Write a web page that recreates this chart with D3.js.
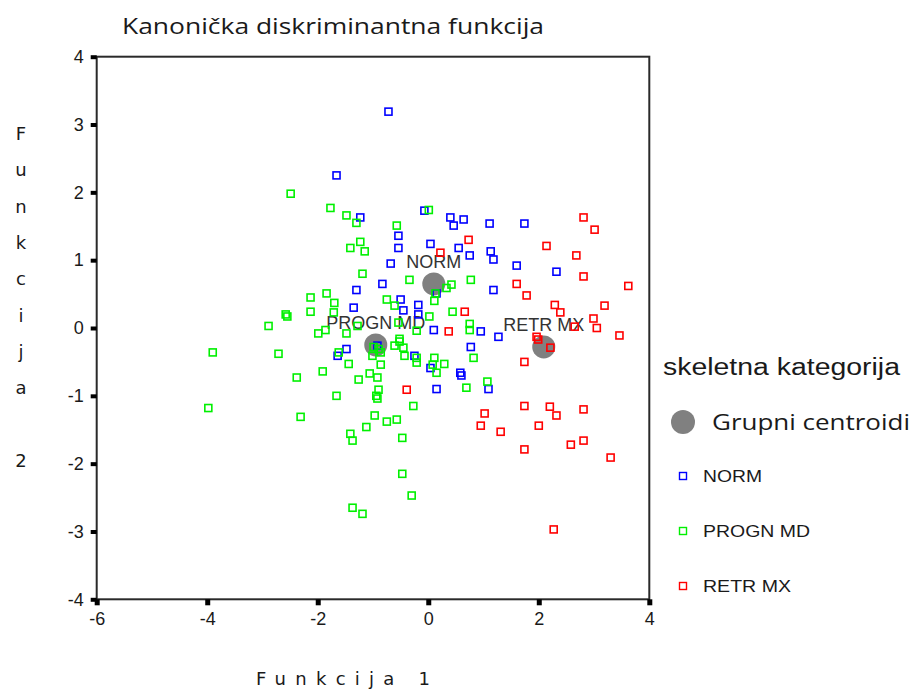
<!DOCTYPE html>
<html>
<head>
<meta charset="utf-8">
<script src="https://cdn.jsdelivr.net/npm/d3@7"></script>
<style>
  body { margin: 0; background: #fff; }
  text { fill: #1a1a1a; }
</style>
</head>
<body>
<div id="container"></div>
<script>
// Group names and colours
var groups = ["NORM", "PROGN MD", "RETR MX"];
var groupColors = ["#0000ff", "#00f000", "#ff0000"];

// Canonical scores per group: [funkcija 1, funkcija 2]
var normPoints = [
  [-0.72, 3.19], [-1.66, 2.25], [-1.23, 1.63], [-0.07, 1.73], [0.40, 1.63],
  [0.46, 1.51], [0.64, 1.60], [1.11, 1.54], [1.74, 1.54], [-0.54, 1.36],
  [-0.54, 1.18], [0.04, 1.24], [0.55, 1.18], [0.75, 1.07], [1.13, 1.13],
  [1.18, 1.01], [-0.68, 0.95], [1.60, 0.92], [2.32, 0.83], [-0.83, 0.65],
  [-1.30, 0.56], [1.18, 0.56], [-1.35, 0.30], [-0.50, 0.42], [-0.18, 0.34],
  [-0.45, 0.26], [-0.18, 0.20], [0.10, -0.03], [0.95, -0.05], [1.27, -0.13],
  [0.77, -0.28], [-0.25, -0.41], [0.04, -0.59], [0.58, -0.66], [0.60, -0.70],
  [0.15, -0.90], [1.09, -0.90], [-1.48, -0.31], [-1.64, -0.41], [-0.92, -0.26],
  [0.15, 0.51]
];
var prognPoints = [
  [-2.49, 1.98], [-1.77, 1.77], [-1.48, 1.66], [-1.30, 1.55], [0.01, 1.74],
  [-0.57, 1.51], [-1.23, 1.27], [-1.41, 1.18], [-1.15, 1.13], [-1.19, 0.80],
  [-0.34, 0.71], [-2.13, 0.45], [-1.84, 0.51], [-1.70, 0.37], [-2.13, 0.24],
  [-2.58, 0.20], [-2.55, 0.17], [-2.89, 0.03], [-0.75, 0.42], [-0.61, 0.33],
  [0.13, 0.51], [0.11, 0.40], [0.33, 0.59], [0.42, 0.64], [0.02, 0.17],
  [-0.21, -0.04], [-1.99, -0.08], [-1.86, -0.03], [-1.48, -0.08], [-1.71, 0.23],
  [-1.28, 0.03], [0.44, 0.24], [-0.54, 0.08], [-0.52, -0.16], [0.77, 0.71],
  [0.75, 0.06], [0.75, -0.03], [-0.99, -0.28], [-0.90, -0.31], [-0.86, -0.36],
  [-1.01, -0.41], [-0.86, -0.54], [-0.61, -0.26], [-0.52, -0.20], [-0.45, -0.29],
  [-0.43, -0.41], [-0.21, -0.44], [-0.21, -0.51], [0.11, -0.44], [0.08, -0.54],
  [0.15, -0.66], [0.29, -0.53], [0.82, -0.44], [-3.90, -0.36], [-2.71, -0.38],
  [-1.62, -0.36], [-1.44, -0.53], [-2.38, -0.73], [-1.91, -0.64], [-1.26, -0.76],
  [-1.06, -0.67], [-0.92, -0.73], [-0.90, -0.91], [-0.94, -1.00], [-0.92, -1.04],
  [-1.66, -1.00], [-3.98, -1.18], [-2.31, -1.31], [-0.97, -1.29], [-1.12, -1.46],
  [-0.75, -1.38], [-0.57, -1.35], [-0.47, -1.62], [-1.41, -1.56], [-1.37, -1.66],
  [-0.27, -1.15], [0.69, -0.88], [1.07, -0.79], [-0.47, -2.15], [-0.30, -2.47],
  [-1.37, -2.65], [-1.19, -2.74]
];
var retrPoints = [
  [2.81, 1.63], [3.01, 1.45], [0.73, 1.30], [2.14, 1.21], [2.68, 1.07],
  [0.22, 1.11], [2.81, 0.76], [1.60, 0.65], [1.78, 0.48], [3.62, 0.62],
  [2.29, 0.34], [2.39, 0.23], [3.19, 0.33], [0.66, 0.24], [0.37, -0.05],
  [2.99, 0.14], [3.05, 0.00], [2.65, 0.02], [3.46, -0.11], [1.96, -0.13],
  [1.99, -0.17], [2.21, -0.29], [1.74, -0.50], [-0.39, -0.91], [1.74, -1.15],
  [1.02, -1.26], [0.95, -1.44], [1.31, -1.53], [2.20, -1.16], [2.32, -1.29],
  [2.81, -1.20], [2.00, -1.44], [2.58, -1.72], [2.81, -1.66], [1.74, -1.79],
  [3.30, -1.91], [2.27, -2.97]
];

// Group centroids
var centroids = [[0.10, 0.65], [-0.95, -0.25], [2.09, -0.28]];

var xTicks = [-6, -4, -2, 0, 2, 4];
var yTicks = [-4, -3, -2, -1, 0, 1, 2, 3, 4];

var width = 918,
    height = 698;

var svg = d3.select("#container")
            .append("svg")
              .attr("width", width)
              .attr("height", height);

var x = d3.scaleLinear().domain([-6, 4]).range([96.7, 649.3]);
var y = d3.scaleLinear().domain([-4, 4]).range([599.3, 56.7]);

// Title
svg.append("text")
  .attr("x", 122)
  .attr("y", 34)
  .attr("textLength", 422)
  .attr("lengthAdjust", "spacingAndGlyphs")
  .style("font-family", "'Open Sans', sans-serif")
  .style("font-size", "21px")
  .text("Kanonička diskriminantna funkcija");

// Frame
svg.append("rect")
  .attr("x", x(-6))
  .attr("y", y(4))
  .attr("width", x(4) - x(-6))
  .attr("height", y(-4) - y(4))
  .attr("fill", "none")
  .attr("stroke", "#2a2a2a")
  .attr("stroke-width", 2);

// Axes (hyphen minus like the original)
var fmt = function(d) { return String(d); };
var xAxis = svg.append("g")
  .attr("transform", "translate(0," + y(-4) + ")")
  .call(d3.axisBottom(x).tickValues(xTicks).tickSize(6).tickPadding(7).tickFormat(fmt));
var yAxis = svg.append("g")
  .attr("transform", "translate(" + x(-6) + ",0)")
  .call(d3.axisLeft(y).tickValues(yTicks).tickSize(6).tickPadding(7).tickFormat(fmt));

[xAxis, yAxis].forEach(function(a) {
  a.attr("font-size", null).attr("font-family", null);
  a.select(".domain").remove();
  a.selectAll(".tick line").attr("stroke", "#000");
  a.selectAll(".tick text")
    .style("font-family", "'Liberation Sans', Arial, sans-serif")
    .style("font-size", "18px")
    .style("fill", "#1a1a1a");
});
xAxis.selectAll(".tick line").attr("stroke-width", 5);
yAxis.selectAll(".tick line").attr("stroke-width", 4);

// X axis label
svg.append("text")
  .attr("x", 256)
  .attr("y", 685)
  .attr("textLength", 174)
  .attr("lengthAdjust", "spacing")
  .style("font-family", "'DejaVu Sans', sans-serif")
  .style("font-size", "18px")
  .text("Funkcija 1");

// Y axis label, one letter per line
var yLabel = "Funkcija 2".split("");
svg.append("g")
  .selectAll("text")
  .data(yLabel)
  .enter()
  .append("text")
    .attr("x", 21)
    .attr("y", function(d, i) { return 140 + i * 36.3; })
    .attr("text-anchor", "middle")
    .style("font-family", "'DejaVu Sans', sans-serif")
    .style("font-size", "18px")
    .text(function(d) { return d; });

// Centroids
svg.append("g")
  .selectAll("circle")
  .data(centroids)
  .enter()
  .append("circle")
    .attr("cx", function(d) { return x(d[0]); })
    .attr("cy", function(d) { return y(d[1]); })
    .attr("r", 11.5)
    .attr("fill", "#808080");

// Centroid labels
svg.append("g")
  .selectAll("text")
  .data(centroids)
  .enter()
  .append("text")
    .attr("x", function(d) { return x(d[0]); })
    .attr("y", function(d) { return y(d[1]) - 16; })
    .attr("text-anchor", "middle")
    .style("font-family", "'Liberation Sans', Arial, sans-serif")
    .style("font-size", "18px")
    .style("fill", "#333")
    .text(function(d, i) { return groups[i]; });

// Points
var allGroups = [normPoints, prognPoints, retrPoints];
var side = 7;
allGroups.forEach(function(pts, gi) {
  svg.append("g")
    .selectAll("rect")
    .data(pts)
    .enter()
    .append("rect")
      .attr("x", function(d) { return x(d[0]) - side / 2; })
      .attr("y", function(d) { return y(d[1]) - side / 2; })
      .attr("width", side)
      .attr("height", side)
      .attr("fill", "none")
      .attr("stroke", groupColors[gi])
      .attr("stroke-width", 1.6);
});

// Legend
var legend = svg.append("g");
legend.append("text")
  .attr("x", 663)
  .attr("y", 375)
  .attr("textLength", 237)
  .attr("lengthAdjust", "spacingAndGlyphs")
  .style("font-family", "'Liberation Sans', Arial, sans-serif")
  .style("font-size", "23px")
  .text("skeletna kategorija");

legend.append("circle")
  .attr("cx", 683)
  .attr("cy", 422)
  .attr("r", 12)
  .attr("fill", "#808080");
legend.append("text")
  .attr("x", 712)
  .attr("y", 430)
  .attr("textLength", 198)
  .attr("lengthAdjust", "spacingAndGlyphs")
  .style("font-family", "'Open Sans', sans-serif")
  .style("font-size", "22px")
  .text("Grupni centroidi");

var legendWidths = [59, 107, 88];
legend.selectAll(".item")
  .data(groups)
  .enter()
  .append("g")
    .attr("class", "item")
    .attr("transform", function(d, i) { return "translate(683," + (476 + i * 55) + ")"; })
    .each(function(d, i) {
      var g = d3.select(this);
      g.append("rect")
        .attr("x", -3.5).attr("y", -3.5)
        .attr("width", 7).attr("height", 7)
        .attr("fill", "none")
        .attr("stroke", groupColors[i])
        .attr("stroke-width", 1.4);
      g.append("text")
        .attr("x", 20)
        .attr("y", 6)
        .attr("textLength", legendWidths[i])
        .attr("lengthAdjust", "spacingAndGlyphs")
        .style("font-family", "'Liberation Sans', Arial, sans-serif")
        .style("font-size", "17px")
        .text(d);
    });
</script>
</body>
</html>
